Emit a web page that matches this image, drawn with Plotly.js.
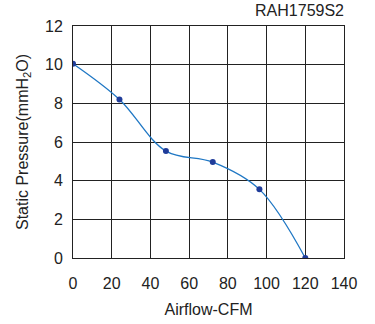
<!DOCTYPE html>
<html>
<head>
<meta charset="utf-8">
<script src="https://cdn.plot.ly/plotly-3.0.1.min.js"></script>
<style>html,body{margin:0;padding:0;background:#fff;}#chart{width:375px;height:324px;}</style>
</head>
<body>
<div id="chart"></div>
<script>
var airflow = [0, 24, 48, 72.2, 96.3, 120];
var pressure = [10.05, 8.2, 5.53, 4.96, 3.55, 0];
var xTicks = [0, 20, 40, 60, 80, 100, 120, 140];
var yTicks = [0, 2, 4, 6, 8, 10, 12];
var modelName = 'RAH1759S2';

var font = {family: 'Liberation Sans, Arial, sans-serif', size: 16, color: '#222'};
var trace = {
  x: airflow, y: pressure,
  mode: 'lines+markers',
  line: {shape: 'spline', smoothing: 1, color: '#1f77c4', width: 1.3},
  marker: {color: '#1f3c9a', size: 6},
  hoverinfo: 'none'
};
var layout = {
  width: 375, height: 324,
  margin: {l: 73, r: 31, t: 26, b: 66},
  paper_bgcolor: '#fff', plot_bgcolor: '#fff',
  showlegend: false,
  font: font,
  title: {text: modelName, font: {family: font.family, size: 16, color: '#222'},
          x: 1, xref: 'paper', xanchor: 'right', y: 0.985, yref: 'container', yanchor: 'top'},
  xaxis: {
    range: [0, 140], tickvals: xTicks, ticktext: xTicks.map(String),
    showgrid: true, gridcolor: '#222', gridwidth: 1,
    zeroline: false, showline: true, linecolor: '#222', linewidth: 1, mirror: true,
    ticks: '', ticklabelstandoff: 11, tickfont: font,
    title: {text: 'Airflow-CFM', font: font, standoff: 12}
  },
  yaxis: {
    range: [0, 12], tickvals: yTicks, ticktext: yTicks.map(String),
    showgrid: true, gridcolor: '#222', gridwidth: 1,
    zeroline: false, showline: true, linecolor: '#222', linewidth: 1, mirror: true,
    ticks: '', ticklabelstandoff: 6, tickfont: font,
    title: {text: 'Static Pressure(mmH<sub>2</sub>O)', font: font, standoff: 12}
  }
};
Plotly.newPlot('chart', [trace], layout, {displayModeBar: false, staticPlot: true});
</script>
</body>
</html>
